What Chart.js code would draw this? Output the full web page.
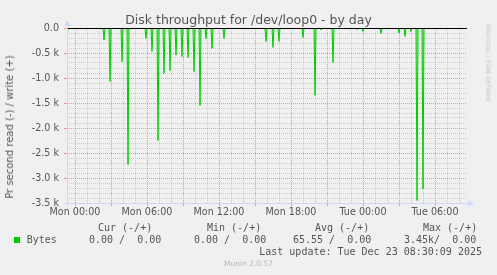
<!DOCTYPE html>
<html><head><meta charset="utf-8">
<script src="https://cdn.jsdelivr.net/npm/chart.js@4"></script>
<style>
html,body{margin:0;padding:0;background:#f0f0f0;}
#wrap{position:relative;width:497px;height:275px;overflow:hidden;background:#f0f0f0;}
canvas{position:absolute;left:0;top:0;}
.t{position:absolute;line-height:0;white-space:pre;color:#555;}
.sans{font-family:"DejaVu Sans";}
.mono{font-family:"DejaVu Sans Mono";font-size:10px;}
.rot{line-height:1;}
</style></head><body>
<div id="wrap">
<canvas id="c" width="497" height="275"></canvas>
<div class="t sans" style="left:0;width:497px;text-align:center;top:20px;font-size:12.5px;">Disk throughput for /dev/loop0 - by day</div>
<div class="t sans rot" style="left:9.8px;top:127px;font-size:10px;transform:translate(-50%,-50%) rotate(-90deg);">Pr second read (-) / write (+)</div>
<div class="t sans rot" style="left:487.7px;top:63.3px;font-size:6px;color:#c4c4c4;transform:translate(-50%,-50%) rotate(90deg);">RRDTOOL / TOBI OETIKER</div>
<div id="legend"></div>
</div>
<script>
// ---- data (minutes relative to Mon 00:00, 5-minute samples) ----
const spikeTimes = [-40, 20, 80, 145, 175, 205, 235, 265, 325, 355, 385, 415, 445, 475, 505, 535, 565, 595, 625, 655, 685, 715, 745, 865, 955, 990, 1020, 1050, 1140, 1200, 1230, 1290, 1410, 1440, 1530, 1590, 1620, 1650, 1680, 1710, 1740];
const readValues = [-170, -10, -10, -240, -1070, -15, -670, -2730, -15, -210, -470, -2250, -910, -850, -540, -570, -590, -870, -1550, -210, -410, -20, -210, -15, -270, -390, -270, -15, -190, -1350, -40, -690, -30, -70, -110, -20, -100, -170, -70, -3450, -3220];
const sampleStart = -40, sampleEnd = 1955, sampleStep = 5;
const xMin = -40, xMax = 1960;
const xTickTimes = [0, 360, 720, 1080, 1440, 1800];
const xTickLabels = ['Mon 00:00', 'Mon 06:00', 'Mon 12:00', 'Mon 18:00', 'Tue 00:00', 'Tue 06:00'];
const yMin = -3500, yMax = 0;
const yTickValues = [0, -500, -1000, -1500, -2000, -2500, -3000, -3500];
const yTickLabels = ['0.0', '-0.5 k', '-1.0 k', '-1.5 k', '-2.0 k', '-2.5 k', '-3.0 k', '-3.5 k'];
const legendHeaders = ['Cur (-/+)', 'Min (-/+)', 'Avg (-/+)', 'Max (-/+)'];
const legendSeries = 'Bytes';
const legendValues = ['0.00 /  0.00', '0.00 /  0.00', '65.55 /  0.00', '3.45k/  0.00'];
const lastUpdate = 'Last update: Tue Dec 23 08:30:09 2025';
const footer = 'Munin 2.0.57';

// ---- build series ----
const spikeMap = new Map(spikeTimes.map((t, i) => [t, readValues[i]]));
const points = [];
for (let t = sampleStart; t <= sampleEnd; t += sampleStep) {
  points.push({x: t, y: spikeMap.has(t) ? spikeMap.get(t) : 0});
}

// ---- legend html ----
const lg = document.getElementById('legend');
function addText(txt, left, baseline, cls, extra) {
  const d = document.createElement('div');
  d.className = 't ' + cls;
  d.textContent = txt;
  d.style.left = left + 'px';
  d.style.top = (baseline - 3.46) + 'px';
  if (extra) Object.assign(d.style, extra);
  lg.appendChild(d);
  return d;
}
const headX = [98, 207, 315, 423];
legendHeaders.forEach((h, i) => addText(h, headX[i], 231, 'mono'));
const valX = [89, 194, 293, 404];
addText(legendSeries, 26.7, 243, 'mono');
legendValues.forEach((v, i) => addText(v, valX[i], 243, 'mono'));
const sq = document.createElement('div');
Object.assign(sq.style, {position: 'absolute', left: '14px', top: '236.5px', width: '6px', height: '6px', background: '#00cc00'});
lg.appendChild(sq);
addText(lastUpdate, 0, 255, 'mono', {left: 'auto', right: '15px'});
const f = addText(footer, 0, 267, 'sans', {width: '497px', textAlign: 'center', fontSize: '7.5px', color: '#b8b8b8'});
f.style.top = (267 - 0.346 * 7.5) + 'px';

// ---- colors ----
const minorGrid = 'rgba(170,170,170,0.5)';
const majorGrid = 'rgba(222,79,79,0.55)';
const axisColor = '#CFD6F8';

const overlay = {
  id: 'overlay',
  afterDatasetsDraw(chart) {
    const {ctx, chartArea: a, scales: {y}} = chart;
    ctx.save();
    // zero line
    const y0 = Math.round(y.getPixelForValue(0)) + 0.5;
    ctx.strokeStyle = '#000';
    ctx.lineWidth = 1;
    ctx.beginPath(); ctx.moveTo(a.left, y0); ctx.lineTo(a.right, y0); ctx.stroke();
    // axes
    ctx.strokeStyle = axisColor;
    ctx.fillStyle = axisColor;
    const lx = a.left + 0.5, by = a.bottom + 0.5;
    ctx.beginPath(); ctx.moveTo(lx, a.bottom + 3); ctx.lineTo(lx, a.top - 4); ctx.stroke();
    ctx.beginPath(); ctx.moveTo(a.left - 3, by); ctx.lineTo(a.right + 3, by); ctx.stroke();
    ctx.beginPath(); ctx.moveTo(lx - 3, a.top - 2); ctx.lineTo(lx + 3, a.top - 2); ctx.lineTo(lx, a.top - 8); ctx.closePath(); ctx.fill();
    ctx.beginPath(); ctx.moveTo(a.right + 1, by - 3); ctx.lineTo(a.right + 1, by + 3); ctx.lineTo(a.right + 7, by); ctx.closePath(); ctx.fill();
    ctx.restore();
  }
};

new Chart(document.getElementById('c'), {
  type: 'line',
  data: {
    datasets: [{
      data: points,
      borderColor: '#00cc00',
      backgroundColor: 'rgba(0,204,0,0.35)',
      borderWidth: 1,
      pointRadius: 0,
      tension: 0,
      fill: 'origin'
    }]
  },
  plugins: [overlay],
  options: {
    responsive: false,
    animation: false,
    events: [],
    layout: {padding: {top: 28, right: 30, left: 0, bottom: 0}},
    plugins: {legend: {display: false}, title: {display: false}, tooltip: {enabled: false}},
    scales: {
      x: {
        type: 'linear', min: xMin, max: xMax,
        afterBuildTicks(s) {
          const t = [];
          for (let v = 0; v <= xMax; v += 60) t.push({value: v});
          s.ticks = t;
        },
        afterFit(s) { s.height = 72; },
        ticks: {
          autoSkip: false, maxRotation: 0, minRotation: 0, padding: 1,
          color: '#555', font: {family: 'DejaVu Sans', size: 9.6},
          callback(v) { const i = xTickTimes.indexOf(v); return i >= 0 ? xTickLabels[i] : ''; }
        },
        grid: {
          color: c => (c.tick && c.tick.value % 180 === 0) ? majorGrid : minorGrid,
          tickColor: c => (c.tick && c.tick.value % 180 === 0) ? majorGrid : 'transparent',
          tickLength: 3, drawTicks: true
        },
        border: {display: false, dash: [1, 1]}
      },
      y: {
        type: 'linear', min: yMin, max: yMax,
        afterBuildTicks(s) {
          const t = [];
          for (let v = yMin; v <= yMax; v += 100) t.push({value: v});
          s.ticks = t;
        },
        afterFit(s) { s.width = 67; },
        ticks: {
          autoSkip: false, padding: 5, color: '#555', font: {family: 'DejaVu Sans', size: 9.6},
          callback(v) { const i = yTickValues.indexOf(v); return i >= 0 ? yTickLabels[i] : ''; }
        },
        grid: {
          color: c => (c.tick && c.tick.value % 500 === 0) ? majorGrid : minorGrid,
          tickColor: c => (c.tick && c.tick.value % 500 === 0) ? majorGrid : 'transparent',
          tickLength: 3, drawTicks: true
        },
        border: {display: false, dash: [1, 1]}
      }
    }
  }
});
</script>
</body></html>
